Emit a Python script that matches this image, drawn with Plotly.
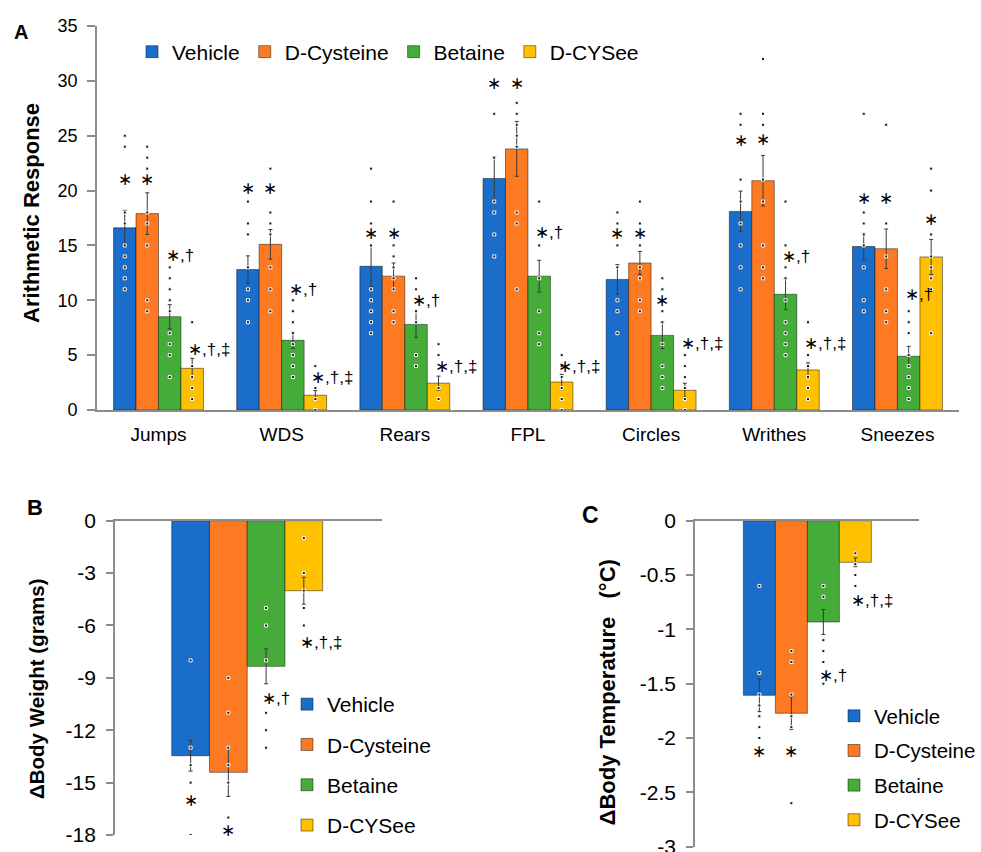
import plotly.graph_objects as go

# ---------------- data ----------------
categories = ["Jumps", "WDS", "Rears", "FPL", "Circles", "Writhes", "Sneezes"]
groups = ["Vehicle", "D-Cysteine", "Betaine", "D-CYSee"]

# Panel A: means
vehicle_a = [16.6, 12.8, 13.1, 21.1, 11.9, 18.1, 14.9]
dcys_a = [17.9, 15.1, 12.2, 23.8, 13.4, 20.9, 14.7]
betaine_a = [8.5, 6.35, 7.8, 12.2, 6.8, 10.55, 4.9]
dcysee_a = [3.8, 1.35, 2.45, 2.55, 1.8, 3.65, 13.95]
# Panel A: SEM
vehicle_a_sem = [1.6, 1.25, 1.85, 2.0, 1.35, 1.85, 1.2]
dcys_a_sem = [1.9, 1.35, 1.2, 2.5, 1.05, 2.3, 1.8]
betaine_a_sem = [1.1, 0.73, 1.18, 1.45, 1.2, 1.4, 0.9]
dcysee_a_sem = [0.9, 0.42, 0.64, 0.7, 0.64, 0.65, 1.6]
# Panel A: individual animals
vehicle_a_pts = [
    [25, 24, 18, 17, 15, 14, 13, 12, 11],
    [19, 17, 16, 13, 11, 10, 8],
    [22, 19, 17, 15, 11, 10, 9, 8, 7],
    [27, 23, 19, 18, 16, 14],
    [18, 17, 15, 13, 10, 9, 7],
    [27, 26, 21, 19, 17, 15, 13, 11],
    [27, 18, 17, 16, 15, 13, 10, 9],
]
dcys_a_pts = [
    [24, 23, 22, 18, 17, 15, 10, 9],
    [22, 18, 17, 16, 13, 11, 9],
    [19, 15, 14, 13, 12, 11, 9, 8],
    [28, 27, 26, 25, 24, 18, 17, 11],
    [19, 17, 15, 13, 12, 10, 9],
    [32, 27, 26, 21, 19, 15, 13, 12],
    [26, 17, 14, 11, 9, 8],
]
betaine_a_pts = [
    [13, 12, 11, 10, 9, 7, 6, 5, 3],
    [10, 9, 8, 7, 6, 5, 4, 3],
    [12, 11, 9, 8, 5, 4],
    [19, 15, 12, 9, 7, 6],
    [12, 11, 9, 8, 6, 4, 3, 2],
    [19, 15, 13, 12, 10, 8, 7, 6, 5],
    [9, 8, 7, 5, 4, 3, 2, 1],
]
dcysee_a_pts = [
    [8, 4, 3, 2, 1],
    [4, 2, 1, 0],
    [6, 5, 2, 1],
    [5, 4, 3, 2, 1, 0],
    [5, 4, 3, 2, 1, 0],
    [8, 5, 4, 3, 2, 1],
    [22, 20, 16, 14, 13, 12, 11, 7],
]
# Panel A: significance labels and their heights
vehicle_a_sig = ["*"] * 7
dcys_a_sig = ["*"] * 7
betaine_a_sig = ["*,†", "*,†", "*,†", "*,†", "*", "*,†", "*,†"]
dcysee_a_sig = ["*,†,‡"] * 6 + ["*"]
vehicle_a_sig_y = [21.0, 20.2, 16.1, 29.8, 16.1, 24.6, 19.3]
dcys_a_sig_y = [21.0, 20.2, 16.1, 29.8, 16.1, 24.7, 19.3]
betaine_a_sig_y = [14.1, 11.0, 10.0, 16.2, 10.0, 14.0, 10.5]
dcysee_a_sig_y = [5.5, 3.0, 3.95, 3.95, 6.1, 6.1, 17.4]

# Panel B: body weight change (grams)
bw_means = [-13.46, -14.41, -8.34, -4.01]
bw_sem = [0.88, 1.38, 1.0, 0.77]
bw_pts = [
    [-8, -13, -14, -15, -18],
    [-9, -11, -13, -14, -15, -17],
    [-5, -6, -8, -11, -12, -13],
    [-1, -3, -4, -5, -6],
]
bw_sig = ["*", "*", "*,†", "*,†,‡"]
bw_sig_y = [-16.0, -17.75, -10.2, -7.0]
bw_ticks = [0, -3, -6, -9, -12, -15, -18]

# Panel C: body temperature change (°C)
bt_means = [-1.607, -1.772, -0.932, -0.383]
bt_sem = [0.15, 0.15, 0.115, 0.04]
bt_pts = [
    [-0.6, -1.4, -1.6, -1.7, -1.8, -1.9, -2.0],
    [-1.2, -1.3, -1.6, -1.8, -1.9, -2.6],
    [-0.6, -0.7, -1.1, -1.2, -1.3, -1.5],
    [-0.3, -0.4, -0.5, -0.6],
]
bt_sig = ["*", "*", "*,†", "*,†,‡"]
bt_sig_y = [-2.125, -2.125, -1.42, -0.73]
bt_ticks = [0, -0.5, -1, -1.5, -2, -2.5, -3]

# ---------------- style ----------------
colors = ["#1A6DC8", "#FD7A22", "#45AC3A", "#FFC000"]
FONT = "Arial, 'Liberation Sans', sans-serif"
AXIS_GRAY = "#8c8c8c"
ERR = "#3a3a3a"
W, H = 981, 852
BARGAP = 0.27
bar_w = (1 - BARGAP) / 4
offsets = [(k - 1.5) * bar_w for k in range(4)]

fig = go.Figure()

a_means = [vehicle_a, dcys_a, betaine_a, dcysee_a]
a_sems = [vehicle_a_sem, dcys_a_sem, betaine_a_sem, dcysee_a_sem]
a_pts = [vehicle_a_pts, dcys_a_pts, betaine_a_pts, dcysee_a_pts]
a_sig = [vehicle_a_sig, dcys_a_sig, betaine_a_sig, dcysee_a_sig]
a_sig_y = [vehicle_a_sig_y, dcys_a_sig_y, betaine_a_sig_y, dcysee_a_sig_y]

def err(arr):
    return dict(type="data", array=arr, visible=True, color=ERR, thickness=1, width=2)

dot_marker = dict(symbol="square", size=3, color="#111111", line=dict(color="white", width=1))

# Panel A bars
idx = list(range(len(categories)))
for k, g in enumerate(groups):
    fig.add_trace(go.Bar(
        x=idx, y=a_means[k], name=g, marker=dict(color=colors[k], line=dict(color="rgba(0,0,0,0.45)", width=1)),
        error_y=err(a_sems[k]), xaxis="x", yaxis="y", legend="legend",
    ))
# Panel A dots
for k in range(4):
    xs, ys = [], []
    for i, pts in enumerate(a_pts[k]):
        xs += [i + offsets[k]] * len(pts)
        ys += pts
    fig.add_trace(go.Scatter(x=xs, y=ys, mode="markers", marker=dot_marker, showlegend=False,
                             xaxis="x", yaxis="y", hoverinfo="skip"))

# Panel B & C bars + dots
for panel, (means, sems, pts, xa, ya, lg) in enumerate([
        (bw_means, bw_sem, bw_pts, "x2", "y2", "legend2"),
        (bt_means, bt_sem, bt_pts, "x3", "y3", "legend3")]):
    for k, g in enumerate(groups):
        fig.add_trace(go.Bar(
            x=[0], y=[means[k]], name=g, legend=lg, legendgroup=f"{lg}_{k}",
            marker=dict(color=colors[k], line=dict(color="rgba(0,0,0,0.45)", width=1)),
            error_y=err([sems[k]]), xaxis=xa, yaxis=ya,
        ))
    for k in range(4):
        fig.add_trace(go.Scatter(x=[offsets[k]] * len(pts[k]), y=pts[k], mode="markers",
                                 marker=dot_marker, showlegend=False, xaxis=xa, yaxis=ya,
                                 hoverinfo="skip"))

# significance annotations
def add_sig(xref, yref, x, y, text):
    single = text == "*"
    fig.add_annotation(x=x, y=y, xref=xref, yref=yref, text=text.replace("*", "∗"), showarrow=False,
                       xanchor="center" if single else "left", yanchor="middle",
                       xshift=0 if single else -6, font=dict(size=17, color="#000", family=FONT))

for k in range(4):
    for i in idx:
        add_sig("x", "y", i + offsets[k], a_sig_y[k][i], a_sig[k][i])
    add_sig("x2", "y2", offsets[k], bw_sig_y[k], bw_sig[k])
    add_sig("x3", "y3", offsets[k], bt_sig_y[k], bt_sig[k])

# titles / panel letters
def ann(text, x, y, size, angle=0):
    fig.add_annotation(text=text, x=x / W, y=1 - y / H, xref="paper", yref="paper", showarrow=False,
                       textangle=angle, xanchor="center", yanchor="middle",
                       font=dict(size=size, color="black", family=FONT))

ann("<b>A</b>", 21, 32, 20)
ann("<b>B</b>", 35, 508, 22)
ann("<b>C</b>", 591, 515, 23)
ann("<b>Arithmetic Response</b>", 31, 213, 22, -90)
ann("<b>ΔBody Weight (grams)</b>", 36, 688, 20.5, -90)
ann("<b>ΔBody Temperature \u00a0\u00a0(°C)</b>", 608, 692, 22, -90)

common_y = dict(showgrid=False, zeroline=False, showline=True, linecolor=AXIS_GRAY, linewidth=1.5,
                ticks="outside", tickcolor=AXIS_GRAY, tickwidth=1.5, automargin=False, fixedrange=True,
                ticklabeloverflow="allow")
common_x = dict(showgrid=False, zeroline=False, showline=True, linecolor=AXIS_GRAY, linewidth=1.5,
                ticks="", automargin=False, fixedrange=True)

fig.update_layout(
    width=W, height=H, autosize=False,
    margin=dict(l=0, r=0, t=0, b=0),
    paper_bgcolor="white", plot_bgcolor="white",
    font=dict(family=FONT, color="black"),
    barmode="group", bargap=BARGAP, bargroupgap=0,
    xaxis=dict(common_x, domain=[97 / W, 960 / W], range=[-0.5, 6.5], tickvals=idx, ticktext=categories,
               tickfont=dict(size=19), anchor="y", ticklabelstandoff=6),
    yaxis=dict(common_y, domain=[1 - 410 / H, 1 - 26 / H], range=[0, 35], tickvals=list(range(0, 36, 5)),
               ticklen=8, tickfont=dict(size=18), anchor="x", ticklabelstandoff=6),
    xaxis2=dict(common_x, domain=[115 / W, 382 / W], range=[-0.64, 0.65], side="top", anchor="y2",
                showticklabels=False),
    yaxis2=dict(common_y, domain=[1 - 835 / H, 1 - 520.7 / H], range=[-18, 0], tickvals=bw_ticks,
                ticktext=[f"{v:g}" for v in bw_ticks], ticklen=7, tickfont=dict(size=21), anchor="x2",
                ticklabelstandoff=6),
    xaxis3=dict(common_x, domain=[695.7 / W, 920 / W], range=[-0.641, 0.637], side="top", anchor="y3",
                showticklabels=False),
    yaxis3=dict(common_y, domain=[1 - 846.7 / H, 1 - 520.7 / H], range=[-3, 0], tickvals=bt_ticks,
                ticktext=[f"{v:g}" for v in bt_ticks], ticklen=7, tickfont=dict(size=21), anchor="x3",
                ticklabelstandoff=6),
    legend=dict(orientation="h", x=132 / W, y=1 - 52 / H, xanchor="left", yanchor="middle",
                font=dict(size=21), bgcolor="rgba(0,0,0,0)", itemclick=False, itemdoubleclick=False),
    legend2=dict(orientation="v", x=287 / W, y=1 - 684 / H, xanchor="left", yanchor="top",
                 font=dict(size=21), bgcolor="rgba(0,0,0,0)", tracegroupgap=10, traceorder="grouped"),
    legend3=dict(orientation="v", x=835 / W, y=1 - 696 / H, xanchor="left", yanchor="top",
                 font=dict(size=20.5), bgcolor="rgba(0,0,0,0)", tracegroupgap=5, traceorder="grouped"),
    showlegend=True,
)

fig.write_html("out.html", config={"displayModeBar": False},
               post_script="document.body.style.margin='0';document.body.style.padding='0';")
